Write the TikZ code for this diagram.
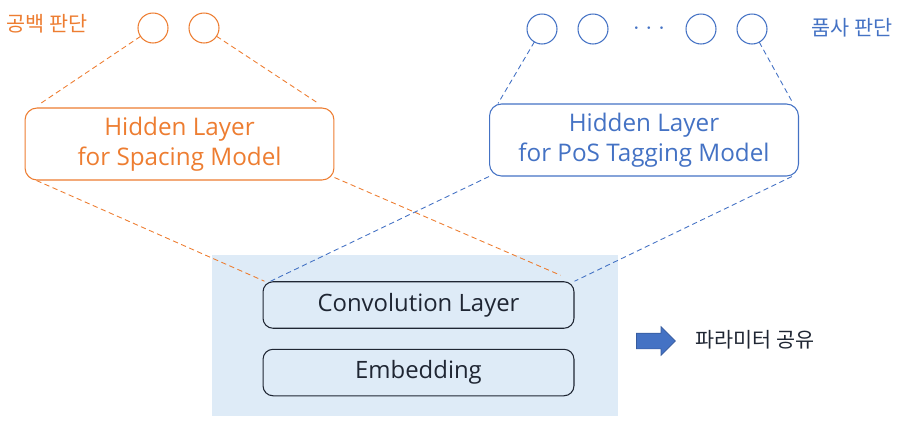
\documentclass[tikz,border=0pt]{standalone}
\usepackage{fontspec}
\setmainfont{Open Sans}
\newfontfamily\korfont{Noto Sans CJK KR}
\usetikzlibrary{calc, positioning, shapes.arrows}
\definecolor{sporange}{HTML}{ED7D31}
\definecolor{posblue}{HTML}{4472C4}
\definecolor{sharebg}{HTML}{DEEBF7}
\definecolor{inkdark}{HTML}{1F2633}
\tikzset{
  align=center,
  unit/.style={draw, shape=circle, minimum size=6mm, inner sep=0pt, outer sep=0pt, line width=0.6pt},
  hidbox/.style={draw, rounded corners=2.4mm, minimum width=6.18cm, minimum height=1.44cm, line width=0.6pt, font=\fontsize{13.8}{17}\selectfont},
  layerbox/.style={draw=inkdark, rounded corners=2mm, minimum width=6.22cm, minimum height=0.93cm, line width=0.6pt, text=inkdark, font=\fontsize{13.6}{15}\selectfont},
  link/.style={dash pattern=on 3pt off 2pt, line width=0.5pt},
  tag/.style={font=\korfont\fontsize{11.8}{13}\selectfont}
}

\begin{document}
\begin{tikzpicture}[x=0.02cm, y=-0.02cm]
  \useasboundingbox (0,0) rectangle (900,430);
  \fill[sharebg] (212,255) rectangle (618,416);

  % output units
  \node[unit, sporange] (s1) at (153,28) {};
  \node[unit, sporange] (s2) at (204,28) {};
  \node[tag, sporange] (slab) at (47,24) {공백 판단};
  \node[unit, posblue] (p1) at (542,29) {};
  \node[unit, posblue] (p2) at (593,29) {};
  \node[unit, posblue] (p3) at (701,29) {};
  \node[unit, posblue] (p4) at (752,29) {};
  \node[posblue, font=\fontsize{15}{15}\selectfont] (pdots) at (649,29) {$\cdot$\hspace{3.2pt}$\cdot$\hspace{3.2pt}$\cdot$};
  \node[tag, posblue] (plab) at (852,28) {품사 판단};

  % hidden layers
  \node[hidbox, sporange] (hs) at (179.5,144) {Hidden Layer\\for Spacing Model};
  \node[hidbox, posblue] (hp) at (644,140) {Hidden Layer\\for PoS Tagging Model};

  % shared layers
  \node[layerbox] (conv) at (418.5,305) {Convolution Layer};
  \node[layerbox, below=0.4cm of conv] (emb) {Embedding};

  \node[single arrow, fill=posblue, draw=posblue!80!black, line width=0.4pt, inner xsep=0pt, inner ysep=0.15cm,
        minimum height=0.78cm, single arrow head extend=0.13cm] (share) at (652,341) {};
  \node[tag, anchor=west, text=inkdark] (sharelab) at (689,340) {파라미터 공유};

  % connections
  \draw[link, sporange] (s1) -- ($(hs.north west)+(16,-4)$);
  \draw[link, sporange] (s2) -- ($(hs.north east)+(-16,-4)$);
  \draw[link, posblue] (p1) -- ($(hp.north west)+(9,0)$);
  \draw[link, posblue] (p4) -- ($(hp.north east)+(-7,-2)$);
  \draw[link, sporange] ($(hs.south west)+(12,0)$) -- ($(conv.north west)+(2,0)$);
  \draw[link, sporange] ($(hs.south east)+(0,-3)$) -- ($(conv.north east)+(-14,-6)$);
  \draw[link, posblue] (hp.south west) -- ($(conv.north west)+(8,0)$);
  \draw[link, posblue] ($(hp.south east)+(-7,0)$) -- (conv.north east);
\end{tikzpicture}
\end{document}
